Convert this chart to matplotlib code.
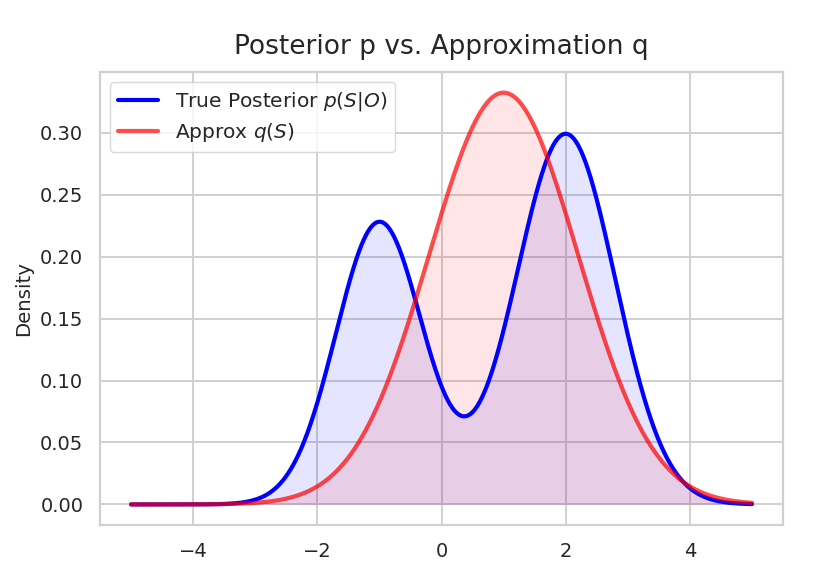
import matplotlib
matplotlib.use("Agg")
import matplotlib.pyplot as plt
import numpy as np
import seaborn as sns

# true posterior: two-component Gaussian mixture
P_WEIGHTS = [0.4, 0.6]
P_MEANS = [-1.0, 2.0]
P_SIGMAS = [0.7, 0.8]
# approximation q: single Gaussian
Q_MEAN = 1.0
Q_SIGMA = 1.2
X_RANGE = (-5, 5)
N_POINTS = 1000


def _normal(x, mu, sd):
    return np.exp(-0.5 * ((x - mu) / sd) ** 2) / (sd * np.sqrt(2 * np.pi))


x = np.linspace(*X_RANGE, N_POINTS)
p = sum(w * _normal(x, m, s) for w, m, s in zip(P_WEIGHTS, P_MEANS, P_SIGMAS))
q = _normal(x, Q_MEAN, Q_SIGMA)

sns.set_style("whitegrid")
plt.rcParams["font.family"] = ["DejaVu Sans"]
plt.rcParams["axes.edgecolor"] = "#d0d0d0"
plt.rcParams["grid.color"] = "#d0d0d0"

fig = plt.figure(figsize=(8.34, 5.62), dpi=100)
ax = fig.add_axes([0.1199, 0.0658, 0.819, 0.806])

ax.plot(x, p, color="blue", lw=3, label=r"True Posterior $p(S|O)$")
ax.fill_between(x, p, color="blue", alpha=0.1, lw=0)
ax.plot(x, q, color="red", lw=3, alpha=0.7, label=r"Approx $q(S)$")
ax.fill_between(x, q, color="red", alpha=0.1, lw=0)

for s in ax.spines.values():
    s.set_linewidth(1.6)
ax.grid(lw=1.4)
ax.tick_params(labelsize=14, colors="#262626", pad=8.5)
ax.set_ylabel("Density", fontsize=14.2, color="#262626", labelpad=5)
ax.set_title("Posterior p vs. Approximation q", fontsize=19, color="#262626", pad=13)
ax.legend(loc="upper left", fontsize=14.5, framealpha=0.8, edgecolor="#d0d0d0",
          labelspacing=0.4)

fig.savefig("out.png", dpi=100)
